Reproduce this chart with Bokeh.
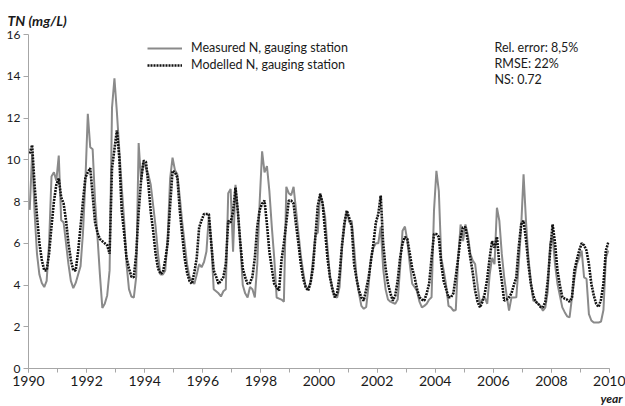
from bokeh.plotting import figure
from bokeh.models import Range1d, FixedTicker, Label, Legend, LegendItem, Title
from bokeh.embed import file_html
from bokeh.resources import INLINE
import numpy as np

start_year = 1990

measured = [
    7.6, 10.3, 7.5, 5.5, 4.5, 4.1, 3.9, 4.2, 6.0, 9.2, 9.4, 9.0,        # 1990
    10.2, 7.1, 7.0, 6.0, 5.0, 4.2, 3.85, 4.1, 4.5, 4.9, 6.5, 9.0,       # 1991
    12.2, 10.6, 10.5, 8.0, 6.3, 4.5, 2.9, 3.1, 3.5, 4.7, 12.5, 13.9,    # 1992
    12.3, 10.5, 8.7, 7.1, 5.0, 3.8, 3.45, 3.4, 4.4, 10.8, 9.0, 9.9,     # 1993
    9.6, 9.3, 8.8, 7.8, 6.8, 5.5, 4.5, 4.5, 4.7, 6.3, 9.1, 10.1,        # 1994
    9.5, 9.3, 8.2, 7.0, 6.0, 5.0, 4.4, 4.2, 4.05, 4.5, 5.0, 4.85,       # 1995
    5.1, 5.6, 7.3, 6.0, 3.8, 3.7, 3.6, 3.45, 3.7, 3.8, 8.4, 8.6,        # 1996
    5.6, 8.8, 7.5, 6.0, 4.0, 3.6, 3.4, 3.9, 3.8, 3.4, 5.0, 8.0,         # 1997
    10.4, 9.4, 9.7, 8.5, 6.8, 5.3, 3.4, 3.35, 3.3, 3.2, 8.7, 8.4,       # 1998
    8.3, 8.7, 7.6, 6.5, 5.4, 4.6, 3.9, 3.85, 4.1, 5.2, 6.4, 6.5,        # 1999
    8.4, 7.9, 7.3, 5.8, 4.4, 3.9, 3.45, 3.4, 3.9, 5.8, 6.8, 7.56,       # 2000
    7.0, 7.08, 5.8, 4.4, 3.6, 3.0, 2.86, 2.95, 4.0, 5.3, 5.8, 6.0,      # 2001
    6.0, 6.8, 4.8, 3.8, 3.3, 3.2, 3.15, 3.1, 3.3, 4.8, 6.6, 6.8,        # 2002
    6.1, 5.0, 4.06, 3.9, 3.7, 3.2, 2.93, 3.0, 3.1, 3.3, 3.41, 7.56,     # 2003
    9.47, 8.5, 5.3, 4.7, 4.0, 3.0, 2.93, 2.77, 2.8, 5.3, 6.9, 6.1,      # 2004
    6.9, 6.4, 5.5, 5.17, 5.0, 4.0, 3.1, 3.3, 3.4, 3.1, 4.5, 5.3,        # 2005
    5.0, 7.7, 7.08, 5.5, 4.37, 3.5, 2.77, 3.4, 3.4, 3.41, 5.0, 6.76,    # 2006
    9.3, 7.08, 5.3, 4.2, 3.25, 3.2, 3.1, 3.0, 2.77, 2.93, 3.7, 6.0,     # 2007
    6.3, 5.0, 4.06, 3.5, 2.93, 2.7, 2.5, 2.45, 3.41, 4.3, 5.0, 5.3,     # 2008
    5.65, 4.37, 4.3, 2.6, 2.3, 2.2, 2.2, 2.2, 2.25, 2.8, 5.3, 5.65,     # 2009
]

modelled = [
    10.3, 10.7, 8.8, 7.3, 6.0, 5.2, 4.7, 4.7, 5.5, 6.8, 8.0, 8.8,       # 1990
    9.1, 8.2, 7.9, 7.1, 6.0, 5.2, 4.7, 4.7, 5.6, 6.8, 8.0, 9.15,        # 1991
    9.4, 9.6, 8.3, 7.0, 6.5, 6.2, 6.1, 6.0, 5.9, 5.5, 9.6, 10.5,        # 1992
    11.4, 10.1, 7.56, 6.5, 5.3, 4.8, 4.4, 4.37, 5.5, 7.5, 9.0, 9.95,    # 1993
    9.9, 8.85, 7.5, 6.6, 5.5, 4.8, 4.54, 4.6, 5.2, 6.0, 7.8, 9.47,      # 1994
    9.4, 9.15, 7.56, 6.4, 5.3, 4.6, 4.2, 4.06, 4.6, 5.3, 6.76, 7.1,     # 1995
    7.4, 7.4, 7.4, 6.0, 4.7, 4.4, 4.06, 4.2, 4.37, 5.0, 7.08, 7.0,      # 1996
    7.5, 8.67, 7.5, 6.0, 4.8, 4.37, 4.06, 4.1, 4.4, 5.3, 6.8, 7.6,      # 1997
    7.9, 8.04, 6.9, 5.6, 4.8, 4.06, 3.9, 3.73, 5.17, 6.0, 7.0, 8.04,    # 1998
    8.04, 7.9, 6.9, 6.0, 5.0, 4.3, 3.9, 3.73, 4.1, 4.8, 6.3, 7.8,       # 1999
    8.36, 7.9, 6.6, 5.3, 4.4, 3.8, 3.41, 3.6, 4.5, 5.9, 7.0, 7.56,      # 2000
    7.2, 6.8, 5.0, 4.3, 3.73, 3.4, 3.25, 3.8, 4.37, 5.2, 6.0, 7.0,      # 2001
    7.4, 8.28, 6.0, 4.8, 4.06, 3.6, 3.25, 3.5, 4.2, 5.3, 6.0, 6.3,      # 2002
    6.2, 5.5, 4.8, 4.37, 3.8, 3.41, 3.3, 3.25, 3.6, 4.06, 5.3, 6.44,    # 2003
    6.44, 6.3, 5.0, 4.2, 3.8, 3.41, 3.41, 3.6, 4.4, 5.3, 6.3, 6.76,     # 2004
    6.76, 6.1, 5.3, 4.6, 3.73, 3.2, 2.93, 3.2, 3.6, 4.3, 5.3, 6.1,      # 2005
    5.8, 6.3, 5.0, 4.2, 3.25, 3.3, 3.41, 3.6, 4.0, 4.37, 5.8, 6.9,      # 2006
    7.08, 6.2, 5.0, 4.06, 3.5, 3.2, 3.1, 2.95, 2.93, 3.2, 4.2, 5.65,    # 2007
    6.9, 6.0, 4.7, 4.0, 3.41, 3.35, 3.3, 3.2, 3.4, 4.7, 5.2, 5.65,      # 2008
    6.0, 5.9, 5.65, 5.0, 4.06, 3.5, 3.1, 2.95, 3.3, 4.06, 5.65, 6.04,   # 2009
]

x_ticks = [1990, 1992, 1994, 1996, 1998, 2000, 2002, 2004, 2006, 2008, 2010]
x_minor = list(range(1990, 2011))
y_ticks = [0, 2, 4, 6, 8, 10, 12, 14, 16]

series_names = ["Measured N, gauging station", "Modelled N, gauging station"]
stats_lines = ["Rel. error: 8,5%", "RMSE: 22%", "NS: 0.72"]
y_title = "TN (mg/L)"
x_title = "year"

FONT = "Lato"
AXIS_COL = "#a6a6a6"
TXT_COL = "#1a1a1a"

months = np.arange(len(measured))
x = start_year + (months + 0.5) / 12.0

p = figure(width=625, height=406, output_backend="svg", toolbar_location=None,
           x_range=Range1d(1990, 2010), y_range=Range1d(0, 16),
           min_border_left=28, min_border_right=16, min_border_top=34,
           min_border_bottom=38)
p.outline_line_color = None
p.grid.visible = False
p.background_fill_color = "white"
p.border_fill_color = "white"

p.title = Title(text=y_title, align="left", offset=-21, standoff=11,
                text_font=FONT, text_font_size="14px",
                text_font_style="bold italic", text_color=TXT_COL)

r1 = p.line(x, measured, line_color="#8a8a8a", line_width=2)
r2 = p.line(x, modelled, line_color="#111111", line_width=2.6, line_dash="2 1")

xa = p.xaxis[0]
xa.ticker = FixedTicker(ticks=x_ticks, minor_ticks=x_minor)
xa.axis_line_color = AXIS_COL
xa.major_tick_line_color = AXIS_COL
xa.minor_tick_line_color = AXIS_COL
xa.major_tick_in = 0
xa.major_tick_out = 4
xa.minor_tick_in = 0
xa.minor_tick_out = 4
xa.major_label_standoff = 3
xa.major_label_text_font = FONT
xa.major_label_text_font_size = "14px"
xa.major_label_text_color = TXT_COL

ya = p.yaxis[0]
ya.ticker = FixedTicker(ticks=y_ticks, minor_ticks=[])
ya.axis_line_color = AXIS_COL
ya.major_tick_line_color = AXIS_COL
ya.major_tick_in = 0
ya.major_tick_out = 5
ya.major_label_standoff = 3
ya.major_label_text_font = FONT
ya.major_label_text_font_size = "12px"
ya.major_label_text_color = TXT_COL

p.add_layout(Title(text=x_title, align="right", offset=-13, standoff=0,
                   text_font=FONT, text_font_size="12px",
                   text_font_style="bold italic", text_color=TXT_COL), "below")

legend = Legend(items=[LegendItem(label=series_names[0], renderers=[r1]),
                       LegendItem(label=series_names[1], renderers=[r2])],
                location=(119, 296), glyph_width=35, glyph_height=14,
                label_height=14, spacing=2, padding=0, margin=0,
                label_standoff=9, label_text_font=FONT,
                label_text_font_size="12.5px", label_text_color=TXT_COL,
                background_fill_alpha=0, border_line_alpha=0)
p.add_layout(legend)

for i, t in enumerate(stats_lines):
    p.add_layout(Label(x=466, y=321 - i * 16.2, x_units="screen", y_units="screen",
                       text=t, text_font=FONT, text_font_size="12.5px",
                       text_color=TXT_COL, text_baseline="middle"))

open("out.html", "w").write(file_html(p, INLINE))
